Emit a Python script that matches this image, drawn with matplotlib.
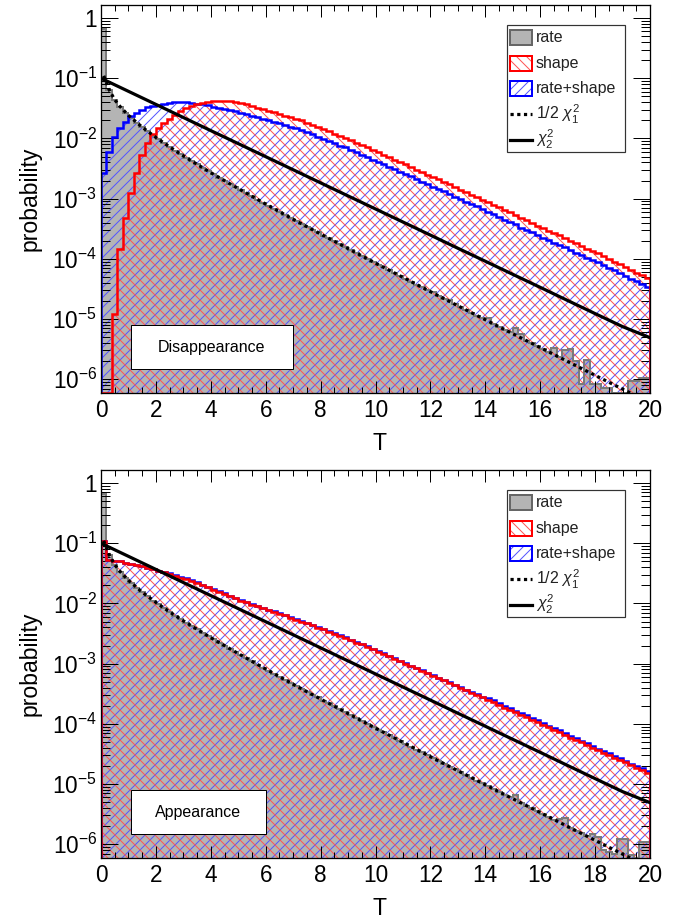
import numpy as np
import matplotlib
matplotlib.use("Agg")
import matplotlib.pyplot as plt
from matplotlib.patches import Rectangle
from matplotlib.lines import Line2D
from matplotlib.ticker import FixedLocator, LogLocator, NullFormatter, MultipleLocator

# ---------------- data ----------------
n_bins = 100
bin_width = 0.2
bin_edges = np.arange(n_bins + 1) * bin_width

# Disappearance (top panel)
rate_dis = [0.65, 6.38e-2, 4.40e-2, 3.37e-2, 2.68e-2, 2.19e-2, 1.83e-2, 1.54e-2, 1.31e-2, 1.12e-2,
            9.64e-3, 8.34e-3, 7.23e-3, 6.30e-3, 5.50e-3, 4.81e-3, 4.22e-3, 3.71e-3, 3.26e-3, 2.88e-3,
            2.54e-3, 2.24e-3, 1.98e-3, 1.75e-3, 1.56e-3, 1.38e-3, 1.22e-3, 1.09e-3, 9.66e-4, 8.59e-4,
            7.66e-4, 6.81e-4, 6.07e-4, 5.41e-4, 4.82e-4, 4.31e-4, 3.84e-4, 3.43e-4, 3.06e-4, 2.74e-4,
            2.44e-4, 2.18e-4, 1.95e-4, 1.75e-4, 1.56e-4, 1.40e-4, 1.25e-4, 1.12e-4, 1.00e-4, 8.97e-5,
            8.05e-5, 7.21e-5, 6.46e-5, 5.79e-5, 5.19e-5, 4.66e-5, 4.18e-5, 3.74e-5, 3.36e-5, 3.01e-5,
            2.80e-5, 2.43e-5, 2.18e-5, 2.05e-5, 1.75e-5, 1.58e-5, 1.42e-5, 1.27e-5, 1.14e-5, 1.03e-5,
            1.05e-5, 8.28e-6, 7.45e-6, 6.68e-6, 6.01e-6, 7.0e-6, 5.6e-6, 4.37e-6, 3.93e-6, 3.53e-6,
            3.17e-6, 2.85e-6, 3.3e-6, 2.31e-6, 3.1e-6, 3.2e-6, 2.0e-6, 8.3e-7, 2.1e-6, 8.3e-7,
            8.3e-7, 7.1e-7, 7.1e-7, 5.9e-7, 5.9e-7, 5.9e-7, 9.3e-7, 9.3e-7, 1.05e-6, 1.05e-6]

shape_dis = [0.0, 0.0, 1.2e-5, 1.48e-4, 4.68e-4, 1.26e-3, 2.69e-3, 5.25e-3, 8.32e-3, 1.20e-2,
             1.48e-2, 1.78e-2, 2.14e-2, 2.45e-2, 2.82e-2, 3.16e-2, 3.47e-2, 3.72e-2, 3.89e-2, 4.07e-2,
             4.17e-2, 4.20e-2, 4.20e-2, 4.17e-2, 4.07e-2, 3.89e-2, 3.72e-2, 3.47e-2, 3.24e-2, 3.09e-2,
             2.88e-2, 2.75e-2, 2.57e-2, 2.40e-2, 2.24e-2, 2.14e-2, 2.00e-2, 1.82e-2, 1.70e-2, 1.55e-2,
             1.41e-2, 1.32e-2, 1.20e-2, 1.10e-2, 1.02e-2, 9.33e-3, 8.51e-3, 7.76e-3, 7.08e-3, 6.46e-3,
             5.89e-3, 5.37e-3, 4.90e-3, 4.47e-3, 4.07e-3, 3.72e-3, 3.39e-3, 3.02e-3, 2.75e-3, 2.51e-3,
             2.29e-3, 2.09e-3, 1.91e-3, 1.74e-3, 1.55e-3, 1.41e-3, 1.29e-3, 1.17e-3, 1.07e-3, 9.55e-4,
             8.71e-4, 7.94e-4, 7.24e-4, 6.46e-4, 5.89e-4, 5.37e-4, 4.79e-4, 4.37e-4, 3.98e-4, 3.55e-4,
             3.24e-4, 2.95e-4, 2.69e-4, 2.45e-4, 2.24e-4, 2.00e-4, 1.82e-4, 1.66e-4, 1.48e-4, 1.35e-4,
             1.23e-4, 1.10e-4, 1.00e-4, 8.91e-5, 8.13e-5, 7.24e-5, 6.61e-5, 5.89e-5, 5.37e-5, 4.79e-5]

rate_shape_dis = [2.69e-3, 5.89e-3, 1.05e-2, 1.48e-2, 1.86e-2, 2.34e-2, 2.69e-2, 3.02e-2, 3.31e-2, 3.47e-2,
                  3.63e-2, 3.80e-2, 3.89e-2, 3.98e-2, 3.98e-2, 3.98e-2, 3.89e-2, 3.80e-2, 3.72e-2, 3.55e-2,
                  3.39e-2, 3.24e-2, 3.09e-2, 2.95e-2, 2.82e-2, 2.69e-2, 2.57e-2, 2.40e-2, 2.24e-2, 2.14e-2,
                  2.00e-2, 1.91e-2, 1.78e-2, 1.66e-2, 1.55e-2, 1.48e-2, 1.38e-2, 1.26e-2, 1.17e-2, 1.07e-2,
                  9.77e-3, 9.12e-3, 8.32e-3, 7.59e-3, 7.08e-3, 6.46e-3, 5.89e-3, 5.37e-3, 4.90e-3, 4.47e-3,
                  4.07e-3, 3.72e-3, 3.39e-3, 3.09e-3, 2.82e-3, 2.57e-3, 2.34e-3, 2.09e-3, 1.91e-3, 1.74e-3,
                  1.58e-3, 1.45e-3, 1.32e-3, 1.20e-3, 1.07e-3, 9.77e-4, 8.91e-4, 8.13e-4, 7.41e-4, 6.61e-4,
                  6.03e-4, 5.50e-4, 5.01e-4, 4.47e-4, 4.07e-4, 3.72e-4, 3.31e-4, 3.02e-4, 2.75e-4, 2.45e-4,
                  2.24e-4, 2.04e-4, 1.86e-4, 1.70e-4, 1.55e-4, 1.38e-4, 1.26e-4, 1.15e-4, 1.05e-4, 9.55e-5,
                  8.71e-5, 7.76e-5, 7.08e-5, 6.46e-5, 5.75e-5, 5.25e-5, 4.68e-5, 4.27e-5, 3.80e-5, 3.39e-5]

# Appearance (bottom panel)
rate_app = [0.65, 6.38e-2, 4.40e-2, 3.37e-2, 2.68e-2, 2.19e-2, 1.83e-2, 1.54e-2, 1.31e-2, 1.12e-2,
            9.64e-3, 8.34e-3, 7.23e-3, 6.30e-3, 5.50e-3, 4.81e-3, 4.22e-3, 3.71e-3, 3.26e-3, 2.88e-3,
            2.54e-3, 2.24e-3, 1.98e-3, 1.75e-3, 1.56e-3, 1.38e-3, 1.22e-3, 1.09e-3, 9.66e-4, 8.59e-4,
            7.66e-4, 6.81e-4, 6.07e-4, 5.41e-4, 4.82e-4, 4.31e-4, 3.84e-4, 3.43e-4, 3.06e-4, 2.74e-4,
            2.44e-4, 2.18e-4, 1.95e-4, 1.75e-4, 1.56e-4, 1.40e-4, 1.25e-4, 1.12e-4, 1.00e-4, 8.97e-5,
            8.05e-5, 7.21e-5, 6.46e-5, 5.79e-5, 5.19e-5, 4.66e-5, 4.18e-5, 3.74e-5, 3.36e-5, 3.01e-5,
            2.70e-5, 2.43e-5, 2.18e-5, 1.95e-5, 1.75e-5, 1.58e-5, 1.42e-5, 1.27e-5, 1.14e-5, 1.03e-5,
            9.23e-6, 8.28e-6, 7.45e-6, 6.68e-6, 6.01e-6, 6.5e-6, 4.85e-6, 4.37e-6, 3.93e-6, 3.53e-6,
            3.17e-6, 2.85e-6, 2.56e-6, 2.6e-6, 2.75e-6, 1.87e-6, 1.68e-6, 1.51e-6, 1.36e-6, 1.45e-6,
            1.3e-6, 8.0e-7, 7.5e-7, 7.0e-7, 1.2e-6, 1.2e-6, 6.5e-7, 6.0e-7, 1.07e-6, 1.07e-6]

shape_app = [0.110, 5.25e-2, 5.13e-2, 5.01e-2, 4.79e-2, 4.57e-2, 4.37e-2, 4.17e-2, 3.89e-2, 3.72e-2,
             3.47e-2, 3.31e-2, 3.09e-2, 2.88e-2, 2.69e-2, 2.51e-2, 2.34e-2, 2.19e-2, 2.00e-2, 1.86e-2,
             1.70e-2, 1.58e-2, 1.45e-2, 1.32e-2, 1.23e-2, 1.12e-2, 1.05e-2, 9.55e-3, 8.91e-3, 8.32e-3,
             7.76e-3, 7.24e-3, 6.76e-3, 6.31e-3, 5.75e-3, 5.37e-3, 5.01e-3, 4.68e-3, 4.37e-3, 3.98e-3,
             3.72e-3, 3.39e-3, 3.16e-3, 2.88e-3, 2.69e-3, 2.45e-3, 2.24e-3, 2.09e-3, 1.91e-3, 1.74e-3,
             1.58e-3, 1.45e-3, 1.32e-3, 1.20e-3, 1.10e-3, 1.00e-3, 9.12e-4, 8.32e-4, 7.59e-4, 6.92e-4,
             6.31e-4, 5.75e-4, 5.25e-4, 4.79e-4, 4.37e-4, 3.98e-4, 3.63e-4, 3.31e-4, 3.02e-4, 2.75e-4,
             2.51e-4, 2.29e-4, 2.04e-4, 1.86e-4, 1.70e-4, 1.55e-4, 1.41e-4, 1.29e-4, 1.17e-4, 1.07e-4,
             9.55e-5, 8.71e-5, 7.94e-5, 7.24e-5, 6.46e-5, 5.89e-5, 5.37e-5, 4.90e-5, 4.47e-5, 3.98e-5,
             3.63e-5, 3.31e-5, 3.02e-5, 2.75e-5, 2.51e-5, 2.29e-5, 2.04e-5, 1.86e-5, 1.70e-5, 1.55e-5]

rate_shape_app = [0.110, 5.25e-2, 5.13e-2, 5.01e-2, 4.79e-2, 4.57e-2, 4.37e-2, 4.17e-2, 3.89e-2, 3.72e-2,
                  3.50e-2, 3.35e-2, 3.15e-2, 2.95e-2, 2.77e-2, 2.60e-2, 2.42e-2, 2.26e-2, 2.06e-2, 1.91e-2,
                  1.74e-2, 1.61e-2, 1.48e-2, 1.35e-2, 1.25e-2, 1.14e-2, 1.07e-2, 9.74e-3, 9.09e-3, 8.49e-3,
                  7.92e-3, 7.38e-3, 6.90e-3, 6.44e-3, 5.87e-3, 5.48e-3, 5.11e-3, 4.77e-3, 4.46e-3, 4.06e-3,
                  3.79e-3, 3.46e-3, 3.22e-3, 2.94e-3, 2.74e-3, 2.50e-3, 2.28e-3, 2.13e-3, 1.95e-3, 1.77e-3,
                  1.61e-3, 1.48e-3, 1.35e-3, 1.22e-3, 1.12e-3, 1.02e-3, 9.30e-4, 8.49e-4, 7.74e-4, 7.06e-4,
                  6.44e-4, 5.87e-4, 5.36e-4, 4.89e-4, 4.46e-4, 4.06e-4, 3.70e-4, 3.38e-4, 3.08e-4, 2.81e-4,
                  2.69e-4, 2.45e-4, 2.18e-4, 1.99e-4, 1.82e-4, 1.66e-4, 1.51e-4, 1.38e-4, 1.25e-4, 1.14e-4,
                  1.02e-4, 9.32e-5, 8.50e-5, 7.75e-5, 6.91e-5, 6.30e-5, 5.75e-5, 5.24e-5, 4.78e-5, 4.26e-5,
                  3.88e-5, 3.54e-5, 3.23e-5, 2.94e-5, 2.69e-5, 2.45e-5, 2.18e-5, 1.99e-5, 1.82e-5, 1.66e-5]

# reference curves (same in both panels)
chi2_2_T = [0, 1, 2, 3, 4, 5, 6, 7, 8, 9, 10, 11, 12, 13, 14, 15, 16, 17, 18, 19, 20]
chi2_2_vals = [0.100, 6.07e-2, 3.68e-2, 2.23e-2, 1.35e-2, 8.21e-3, 4.98e-3, 3.02e-3, 1.83e-3, 1.11e-3,
               6.74e-4, 4.09e-4, 2.48e-4, 1.50e-4, 9.12e-5, 5.53e-5, 3.36e-5, 2.03e-5, 1.23e-5, 7.48e-6, 4.9e-6]

half_chi2_1_T = [0.1, 0.3, 0.5, 0.7, 1.0, 1.5, 2.0, 2.5, 3, 4, 5, 6, 7, 8, 9, 10, 11, 12, 13, 14, 15,
                 16, 17, 18, 19, 20]
half_chi2_1_vals = [0.110, 6.4e-2, 4.4e-2, 3.37e-2, 2.42e-2, 1.54e-2, 1.04e-2, 7.23e-3, 5.14e-3, 2.70e-3,
                    1.47e-3, 8.11e-4, 4.55e-4, 2.58e-4, 1.48e-4, 8.49e-5, 4.92e-5, 2.85e-5, 1.66e-5,
                    9.72e-6, 5.70e-6, 3.35e-6, 1.97e-6, 1.16e-6, 6.85e-7, 4.05e-7]

legend_labels = ["rate", "shape", "rate+shape", r"1/2 $\chi^{2}_{1}$", r"$\chi^{2}_{2}$"]
panel_titles = ["Disappearance", "Appearance"]
ytick_vals = [1, 1e-1, 1e-2, 1e-3, 1e-4, 1e-5, 1e-6]
ytick_labels = ["1", r"$10^{-1}$", r"$10^{-2}$", r"$10^{-3}$", r"$10^{-4}$", r"$10^{-5}$", r"$10^{-6}$"]

# ---------------- styling ----------------
DPI = 120
PT = 72.0 / DPI   # points per pixel
W, H = 694, 921

plt.rcParams["font.family"] = ["Liberation Sans", "DejaVu Sans"]
plt.rcParams["mathtext.fontset"] = "custom"
plt.rcParams["mathtext.rm"] = "Liberation Sans"
plt.rcParams["mathtext.it"] = "Liberation Sans:italic"
plt.rcParams["mathtext.bf"] = "Liberation Sans:bold"
plt.rcParams["hatch.linewidth"] = 1.0 * PT

HATCH_RED = "\\" * 4
HATCH_BLUE = "/" * 4
HATCH_RED_COLOR = "#ff5555"
HATCH_BLUE_COLOR = "#5555ff"

Y_MIN, Y_MAX = 5.9e-7, 1.65
GRAY_FILL = "#b4b4b4"
GRAY_EDGE = "#7a7a7a"

fig = plt.figure(figsize=(W / DPI, H / DPI), dpi=DPI)
ax_top = fig.add_axes([101 / W, 1 - 393 / H, 549 / W, 388 / H])
ax_bot = fig.add_axes([101 / W, 1 - 858 / H, 549 / W, 388 / H])


def style_axes(ax):
    ax.set_xlim(0, 20)
    ax.set_yscale("log")
    ax.set_ylim(Y_MIN, Y_MAX)
    ax.xaxis.set_major_locator(MultipleLocator(2))
    ax.xaxis.set_minor_locator(MultipleLocator(0.5))
    ax.yaxis.set_major_locator(FixedLocator(ytick_vals))
    ax.set_yticklabels(ytick_labels)
    ax.yaxis.set_minor_locator(LogLocator(base=10, subs=np.arange(2, 10), numticks=30))
    ax.yaxis.set_minor_formatter(NullFormatter())
    ax.tick_params(axis="both", which="both", direction="in", top=True, right=True,
                   width=1.0 * PT, color="black")
    ax.tick_params(axis="x", which="major", length=12 * PT, labelsize=22.5 * PT, pad=6 * PT)
    ax.tick_params(axis="x", which="minor", length=6 * PT)
    ax.tick_params(axis="y", which="major", length=17 * PT, labelsize=22.5 * PT, pad=4 * PT)
    ax.tick_params(axis="y", which="minor", length=9 * PT)
    for sp in ax.spines.values():
        sp.set_linewidth(1.3 * PT)
    ax.set_xlabel("T", fontsize=23 * PT)
    ax.xaxis.set_label_coords(0.508, -0.10)
    ax.set_ylabel("probability", fontsize=23 * PT)
    ax.yaxis.set_label_coords(-0.108, 0.5)


def draw_panel(ax, rate, shape, rate_shape, title, box_w):
    r = np.clip(np.asarray(rate), Y_MIN, None)
    s = np.clip(np.asarray(shape), Y_MIN, None)
    rs = np.clip(np.asarray(rate_shape), Y_MIN, None)
    # rate: filled gray
    ax.stairs(r, bin_edges, baseline=Y_MIN, fill=True, facecolor=GRAY_FILL,
              edgecolor="none", linewidth=0, zorder=1.0)
    # hatches
    ax.stairs(rs, bin_edges, baseline=Y_MIN, fill=True, facecolor="none",
              edgecolor=HATCH_BLUE_COLOR, hatch=HATCH_BLUE, linewidth=0, zorder=1.1)
    ax.stairs(s, bin_edges, baseline=Y_MIN, fill=True, facecolor="none",
              edgecolor=HATCH_RED_COLOR, hatch=HATCH_RED, linewidth=0, zorder=1.2)
    # outlines
    ax.stairs(r, bin_edges, baseline=Y_MIN, color=GRAY_EDGE, linewidth=2.0 * PT, zorder=1.5)
    ax.stairs(rs, bin_edges, baseline=Y_MIN, color="blue", linewidth=2.5 * PT, zorder=1.6)
    ax.stairs(s, bin_edges, baseline=Y_MIN, color="red", linewidth=2.5 * PT, zorder=1.7)
    # curves
    ax.plot(half_chi2_1_T, half_chi2_1_vals, color="black", linewidth=3.2 * PT,
            linestyle=(0, (1, 1.1)), zorder=2.0)
    ax.plot(chi2_2_T, chi2_2_vals, color="black", linewidth=3.2 * PT, zorder=2.1)

    # label box
    bx0, by0, bh = 0.0546, 0.0619, 0.1125
    ax.add_patch(Rectangle((bx0, by0), box_w, bh, transform=ax.transAxes, facecolor="white",
                           edgecolor="black", linewidth=1.0 * PT, zorder=4))
    ax.text(bx0 + box_w / 2, by0 + bh / 2, title, transform=ax.transAxes, ha="center",
            va="center", fontsize=16 * PT, zorder=5)

    # legend (ROOT-style)
    lx0, lx1, ly1, ly0 = 0.7395, 0.9545, 0.948, 0.621
    ax.add_patch(Rectangle((lx0, ly0), lx1 - lx0, ly1 - ly0, transform=ax.transAxes,
                           facecolor="white", edgecolor="#333333", linewidth=1.2 * PT, zorder=6))
    sx0, sx1 = 0.7450, 0.7850
    hh = 7.5 / 388
    specs = [
        dict(kind="patch", fc=GRAY_FILL, ec="#666666", hatch=None, hc=None),
        dict(kind="patch", fc="white", ec="red", hatch=HATCH_RED, hc=HATCH_RED_COLOR),
        dict(kind="patch", fc="white", ec="blue", hatch=HATCH_BLUE, hc=HATCH_BLUE_COLOR),
        dict(kind="line", ls=(0, (1, 1.1))),
        dict(kind="line", ls="-"),
    ]
    for i, (lab, sp) in enumerate(zip(legend_labels, specs)):
        yc = ly1 - (12.7 + 25.5 * i) / 388
        if sp["kind"] == "patch":
            if sp["hatch"] is not None:
                ax.add_patch(Rectangle((sx0, yc - hh), sx1 - sx0, 2 * hh, transform=ax.transAxes,
                                       facecolor="white", edgecolor=sp["hc"], hatch=sp["hatch"],
                                       linewidth=0, zorder=7))
                ax.add_patch(Rectangle((sx0, yc - hh), sx1 - sx0, 2 * hh, transform=ax.transAxes,
                                       facecolor="none", edgecolor=sp["ec"],
                                       linewidth=2.0 * PT, zorder=7.1))
            else:
                ax.add_patch(Rectangle((sx0, yc - hh), sx1 - sx0, 2 * hh, transform=ax.transAxes,
                                       facecolor=sp["fc"], edgecolor=sp["ec"],
                                       linewidth=2.0 * PT, zorder=7))
        else:
            ax.add_line(Line2D([sx0, sx1], [yc, yc], transform=ax.transAxes, color="black",
                               linewidth=3.2 * PT, linestyle=sp["ls"], zorder=7))
        ax.text(0.7923, yc, lab, transform=ax.transAxes, ha="left", va="center",
                fontsize=16 * PT, color="#222222", zorder=8)


style_axes(ax_top)
style_axes(ax_bot)
draw_panel(ax_top, rate_dis, shape_dis, rate_shape_dis, panel_titles[0], 0.295)
draw_panel(ax_bot, rate_app, shape_app, rate_shape_app, panel_titles[1], 0.246)

fig.savefig("out.png", dpi=DPI)
